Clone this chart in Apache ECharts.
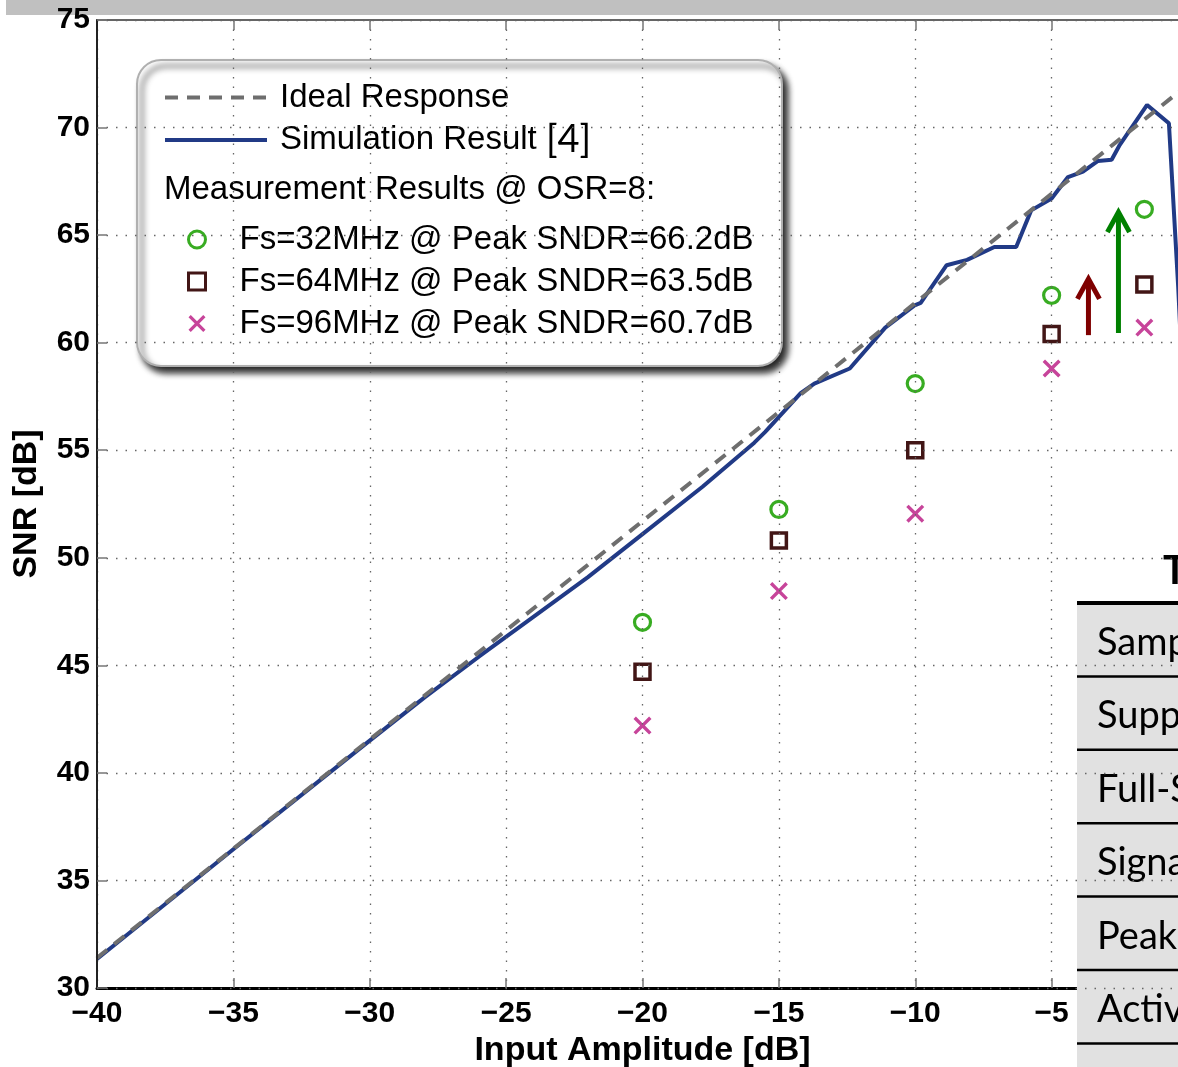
<!DOCTYPE html>
<html>
<head>
<meta charset="utf-8">
<script src="https://cdn.jsdelivr.net/npm/echarts@6/dist/echarts.min.js"></script>
<style>
  html, body { margin: 0; padding: 0; background: #ffffff; }
  #chart { width: 1178px; height: 1067px; }
</style>
</head>
<body>
<div id="chart"></div>
<script>
// Ideal SNR response (straight line across the input range)
const idealX = [-40, 0];
const idealY = [31.4, 72.0];

// Simulated SNR vs input amplitude
const simX = [-40, -35, -30, -28, -26, -24, -22, -20, -17.8, -15.9, -15.5, -14.2, -13.7, -12.4, -11.1, -10.0, -9.8,
              -8.85, -8.1, -7.1, -6.3, -5.75, -5.0, -4.4, -3.85, -3.3, -2.8, -2.5, -1.5, -0.7, -0.36, 0];
const simY = [31.35, 36.45, 41.5, 43.5, 45.4, 47.25, 49.1, 51.1, 53.3, 55.35, 55.85, 57.65, 58.1, 58.8, 60.7, 61.75, 61.85,
              63.6, 63.85, 64.45, 64.45, 66.15, 66.7, 67.7, 67.95, 68.45, 68.5, 69.2, 71.05, 70.2, 62.6, 53.0];

// Measured points (OSR = 8)
const measX = [-20, -15, -10, -5, -1.6];
const fs32 = [47.0, 52.25, 58.1, 62.2, 66.2];
const fs64 = [44.7, 50.8, 55.0, 60.4, 62.7];
const fs96 = [42.2, 48.45, 52.05, 58.8, 60.7];

// Improvement arrows: x position, shaft bottom, tip
const arrowX = [-3.65, -2.55];
const arrowFrom = [60.35, 60.45];
const arrowTo = [63.2, 66.3];
const arrowColors = ['#7f0000', '#008000'];

// Axis ticks
const xMin = -40, xMax = 0, xStep = 5;
const yMin = 30, yMax = 75, yStep = 5;

// Legend texts
const seriesNames = ['Ideal Response', 'Simulation Result',
  'Fs=32MHz @ Peak SNDR=66.2dB', 'Fs=64MHz @ Peak SNDR=63.5dB', 'Fs=96MHz @ Peak SNDR=60.7dB'];
const legendHeader = 'Measurement Results @ OSR=8:';
const simRef = '[4]';

// Specification table (right side)
const tableTitle = 'TABLE I';
const tableRows = ['Sampling Rate', 'Supply Voltage', 'Full-Scale Range', 'Signal Bandwidth', 'Peak SNDR', 'Active Area'];

const FONT = '"Liberation Sans", Arial, Helvetica, sans-serif';
const zip = (xs, ys) => xs.map((x, i) => [x, ys[i]]);
const minusFmt = v => (v < 0 ? '\u2212' + Math.abs(v) : String(v));

// Thick "x" marker outline
const CROSS = 'path://M0,2L2,0L7.5,5.5L13,0L15,2L9.5,7.5L15,13L13,15L7.5,9.5L2,15L0,13L5.5,7.5Z';

const chart = echarts.init(document.getElementById('chart'), null, { renderer: 'canvas' });

const gridLine = { show: true, lineStyle: { color: '#666', width: 1.3, type: [1.5, 8] } };
const tickStyle = { show: true, inside: true, length: 10, lineStyle: { color: '#777', width: 1.5 } };
const CLEAR = 'rgba(0,0,0,0)';

// Table graphic elements
const tableLeft = 1077, tableTop = 603, rowH = 73.4;
const tableEls = [];
tableEls.push({ type: 'rect', z: 20, shape: { x: tableLeft, y: 530, width: 120, height: tableTop - 530 }, style: { fill: '#ffffff' } });
tableEls.push({ type: 'rect', z: 20, shape: { x: tableLeft, y: tableTop, width: 120, height: 1067 - tableTop }, style: { fill: '#e1e1e1' } });
tableEls.push({ type: 'text', z: 22, x: 1163, y: 571, style: { text: tableTitle, font: 'bold 40px Lato, "Noto Sans", sans-serif', fill: '#000', verticalAlign: 'middle', align: 'left' } });
tableEls.push({ type: 'line', z: 22, shape: { x1: tableLeft, y1: tableTop, x2: 1178, y2: tableTop }, style: { stroke: '#000', lineWidth: 4 } });
tableRows.forEach((t, i) => {
  const yLine = tableTop + rowH * (i + 1);
  tableEls.push({ type: 'line', z: 22, shape: { x1: tableLeft, y1: yLine, x2: 1178, y2: yLine }, style: { stroke: '#000', lineWidth: 2.5 } });
  tableEls.push({ type: 'text', z: 22, x: 1097, y: tableTop + rowH * (i + 0.5) + 3,
    style: { text: t, font: '38px Lato, "Noto Sans", sans-serif', fill: '#000', verticalAlign: 'middle', align: 'left' } });
});

const option = {
  animation: false,
  backgroundColor: '#ffffff',
  grid: { left: 97, top: 20, width: 1091, height: 968, outerBoundsMode: 'none', containLabel: false },
  xAxis: [{
    type: 'value', min: xMin, max: xMax, interval: xStep, position: 'bottom', z: 10,
    axisLine: { show: true, onZero: false, lineStyle: { color: '#000', width: 3 } },
    axisTick: tickStyle,
    axisLabel: { fontFamily: FONT, fontWeight: 'bold', fontSize: 30, color: '#000', margin: 11, formatter: minusFmt },
    splitLine: gridLine,
    name: 'Input Amplitude [dB]', nameLocation: 'middle', nameGap: 42,
    nameTextStyle: { fontFamily: FONT, fontWeight: 'bold', fontSize: 34, color: '#000' }
  }, {
    type: 'value', min: xMin, max: xMax, interval: xStep, position: 'top',
    axisLine: { show: true, onZero: false, lineStyle: { color: '#333', width: 1.5 } },
    axisTick: tickStyle,
    axisLabel: { show: false },
    splitLine: { show: false }
  }],
  yAxis: [{
    type: 'value', min: yMin, max: yMax, interval: yStep, position: 'left', z: 40,
    axisLine: { show: true, onZero: false, lineStyle: { color: '#222', width: 2 } },
    axisTick: tickStyle,
    axisLabel: { fontFamily: FONT, fontWeight: 'bold', fontSize: 30, color: '#000', margin: 7 },
    splitLine: gridLine,
    name: 'SNR [dB]', nameLocation: 'middle', nameGap: 53, nameRotate: 90,
    nameTextStyle: { fontFamily: FONT, fontWeight: 'bold', fontSize: 34, color: '#000' }
  }],
  legend: [{
    data: seriesNames.slice(0, 2), orient: 'vertical', left: 163, top: 81, padding: 0,
    itemWidth: 102, itemHeight: 14, itemGap: 7,
    itemStyle: { opacity: 0 },
    lineStyle: { width: 4 },
    textStyle: { fontFamily: FONT, fontSize: 33, color: '#000', padding: [0, 0, 0, 8],
      rich: { r: { fontFamily: 'Lato, "Noto Sans", sans-serif', fontSize: 38, color: '#000' } } },
    formatter: n => (n === seriesNames[1] ? n + ' {r|' + simRef + '}' : n),
    z: 6
  }, {
    data: seriesNames.slice(2), orient: 'vertical', left: 187, top: 223, padding: 0,
    itemWidth: 17, itemHeight: 17, itemGap: 9,
    itemStyle: { borderWidth: 3 },
    textStyle: { fontFamily: FONT, fontSize: 33, color: '#000', padding: [0, 0, 0, 29] },
    z: 6
  }],
  graphic: [
    { type: 'rect', z: 1, shape: { x: 6, y: 0, width: 1200, height: 15 }, style: { fill: '#c0c0c0' } },
    { type: 'rect', z: 3, shape: { x: 137, y: 60, width: 645, height: 306, r: 24 },
      style: { fill: '#ffffff', stroke: '#b0b0b0', lineWidth: 2, shadowBlur: 6, shadowOffsetX: 5, shadowOffsetY: 6, shadowColor: 'rgba(0,0,0,0.85)' } },
    { type: 'text', z: 6, x: 164, y: 190, style: { text: legendHeader, font: '33px ' + FONT, fill: '#000', verticalAlign: 'middle' } },
    ...tableEls
  ],
  series: [{
    name: seriesNames[1], type: 'line', data: zip(simX, simY), symbol: 'none', z: 2,
    lineStyle: { color: '#213a86', width: 4 }, itemStyle: { color: '#213a86' }
  }, {
    name: seriesNames[0], type: 'line', data: zip(idealX, idealY), symbol: 'none', z: 3,
    lineStyle: { color: '#6e6e6e', width: 4, type: [13, 9] }, itemStyle: { color: '#6e6e6e' }
  }, {
    name: seriesNames[2], type: 'scatter', data: zip(measX, fs32), symbol: 'circle', symbolSize: 16, z: 4,
    itemStyle: { color: CLEAR, borderColor: '#38ac22', borderWidth: 3.2, opacity: 1 }
  }, {
    name: seriesNames[3], type: 'scatter', data: zip(measX, fs64), symbol: 'rect', symbolSize: 15, z: 4,
    itemStyle: { color: CLEAR, borderColor: '#421616', borderWidth: 3.5, opacity: 1 }
  }, {
    name: seriesNames[4], type: 'scatter', data: zip(measX, fs96), symbol: CROSS, symbolSize: 18, z: 4,
    itemStyle: { color: '#c7449a', opacity: 1 }
  }, {
    type: 'custom', z: 5, silent: true,
    data: arrowX.map((x, i) => [x, arrowFrom[i], arrowTo[i]]),
    encode: { x: 0, y: [1, 2] },
    renderItem: (params, api) => {
      const i = params.dataIndex;
      const p0 = api.coord([api.value(0), api.value(1)]);
      const p1 = api.coord([api.value(0), api.value(2)]);
      const c = arrowColors[i];
      const hw = 11, hh = 20, tipY = p1[1] + 5;
      return {
        type: 'group', children: [
          { type: 'line', shape: { x1: p0[0], y1: p0[1], x2: p1[0], y2: tipY + 4 }, style: { stroke: c, lineWidth: 5 } },
          { type: 'polyline', shape: { points: [[p1[0] - hw, tipY + hh], [p1[0], tipY], [p1[0] + hw, tipY + hh]] },
            style: { stroke: c, lineWidth: 5, fill: null, lineJoin: 'miter' } }
        ]
      };
    }
  }]
};

chart.setOption(option);
</script>
</body>
</html>
